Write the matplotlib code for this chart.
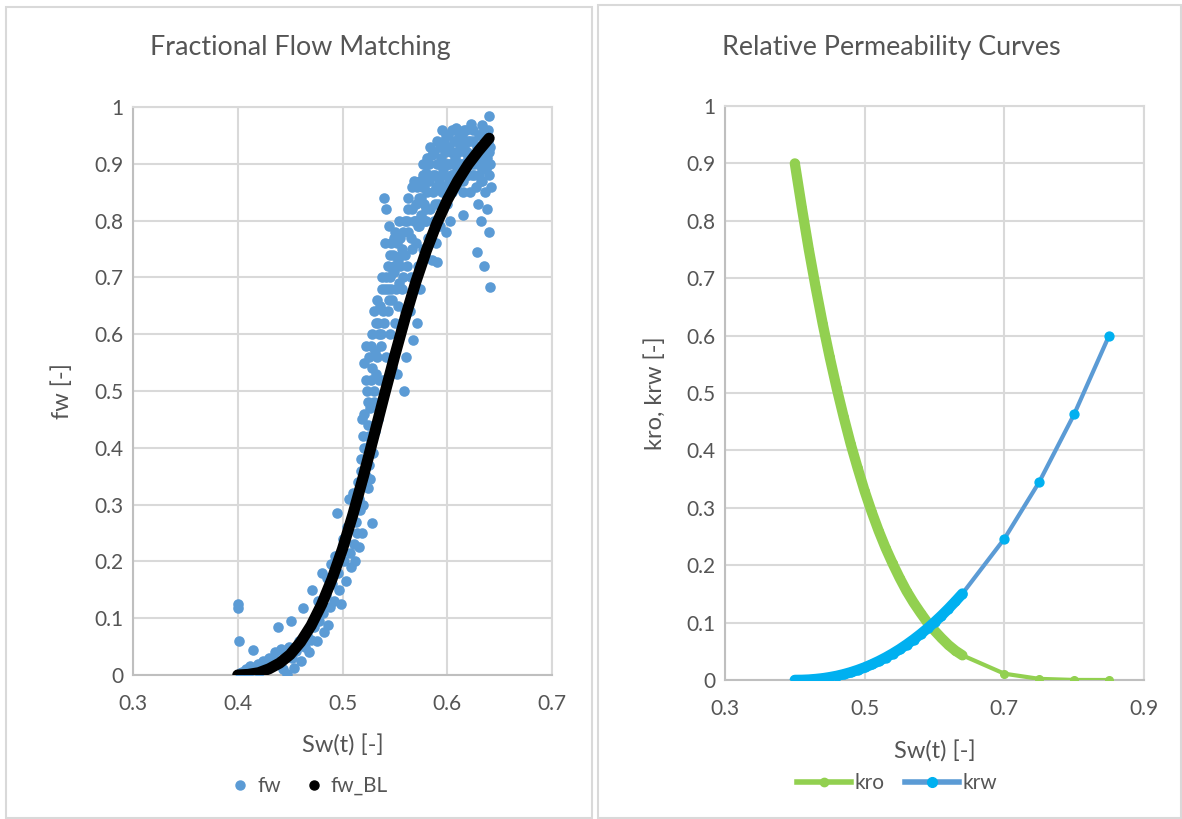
import matplotlib
matplotlib.use('Agg')
import matplotlib.pyplot as plt
from matplotlib.lines import Line2D
from matplotlib.patches import Rectangle

# ---------------- data ----------------
# observed fractional flow (scatter "fw")
sw_obs = [
    0.400, 0.400, 0.401, 0.402, 0.404, 0.406, 0.408, 0.410, 0.412, 0.414,
    0.415, 0.417, 0.419, 0.420, 0.422, 0.424, 0.426, 0.428, 0.430, 0.432,
    0.434, 0.436, 0.438, 0.440, 0.441, 0.443, 0.445, 0.447, 0.449, 0.451,
    0.452, 0.454, 0.456, 0.458, 0.460, 0.462, 0.464, 0.466, 0.468, 0.470,
    0.471, 0.473, 0.474, 0.476, 0.477, 0.478, 0.480, 0.481, 0.482, 0.484,
    0.485, 0.486, 0.488, 0.489, 0.490, 0.492, 0.493, 0.495, 0.496, 0.497,
    0.499, 0.500, 0.501, 0.503, 0.504, 0.506, 0.507, 0.508, 0.510, 0.511,
    0.512, 0.513, 0.514, 0.515, 0.516, 0.517, 0.518, 0.519, 0.520, 0.520,
    0.521, 0.521, 0.522, 0.522, 0.523, 0.523, 0.524, 0.524, 0.525, 0.525,
    0.526, 0.526, 0.527, 0.527, 0.528, 0.528, 0.529, 0.530, 0.530, 0.531,
    0.532, 0.532, 0.533, 0.534, 0.535,
    0.536, 0.537, 0.538, 0.539, 0.540, 0.540, 0.541, 0.542, 0.542, 0.543,
    0.543, 0.544, 0.545, 0.545, 0.546, 0.547, 0.547, 0.548, 0.549, 0.550,
    0.550, 0.551, 0.552, 0.553, 0.553, 0.554, 0.555, 0.556, 0.557, 0.558,
    0.559, 0.560, 0.560,
    0.561, 0.562, 0.563, 0.564, 0.565, 0.566, 0.566, 0.567, 0.568, 0.569,
    0.570, 0.570, 0.571, 0.572, 0.573, 0.573, 0.574, 0.575, 0.576, 0.577,
    0.577, 0.578, 0.579, 0.580, 0.580, 0.581, 0.582, 0.583, 0.584, 0.585,
    0.585,
    0.586, 0.587, 0.588, 0.589, 0.590, 0.590, 0.591, 0.592, 0.593, 0.594,
    0.595, 0.595, 0.596, 0.597, 0.598, 0.599, 0.600, 0.600, 0.601, 0.602,
    0.603, 0.604, 0.605, 0.605, 0.606, 0.607, 0.608, 0.608, 0.609, 0.610,
    0.611, 0.612, 0.612,
    0.613, 0.614, 0.615, 0.615, 0.616, 0.617, 0.618, 0.619, 0.620, 0.620,
    0.621, 0.622, 0.623, 0.623, 0.624, 0.625, 0.626, 0.627, 0.628, 0.628,
    0.629, 0.630, 0.630, 0.631, 0.632, 0.633, 0.633, 0.634, 0.635, 0.635,
    0.636, 0.637, 0.638, 0.638, 0.639, 0.640, 0.640, 0.640, 0.641, 0.641,
    0.642,
    0.516, 0.518, 0.519, 0.521, 0.522, 0.524, 0.525, 0.527, 0.528, 0.530,
    0.531, 0.533, 0.534, 0.535, 0.537, 0.538, 0.539, 0.541, 0.542, 0.544,
    0.545, 0.546, 0.548, 0.549, 0.551, 0.552, 0.554, 0.555, 0.557, 0.558,
    0.560, 0.562, 0.563, 0.565, 0.566, 0.568, 0.569, 0.571, 0.572, 0.574,
    0.575, 0.577, 0.578, 0.580, 0.581, 0.583, 0.584, 0.586, 0.587, 0.589,
    0.590, 0.592, 0.593, 0.595, 0.596, 0.598, 0.599, 0.601, 0.602, 0.604,
    0.605, 0.607, 0.608, 0.610, 0.611, 0.613, 0.614, 0.616, 0.617, 0.619,
    0.620, 0.622, 0.623, 0.625, 0.626, 0.628, 0.629, 0.631, 0.632, 0.634,
    0.635, 0.637, 0.638, 0.640, 0.641, 0.597, 0.603, 0.609, 0.615, 0.621,
    0.627, 0.633, 0.639, 0.588, 0.579, 0.571, 0.563, 0.556, 0.549, 0.543,
]
fw_obs = [
    0.125, 0.118, 0.060, 0.003, 0.006, 0.002, 0.010, 0.004, 0.015, 0.008,
    0.044, 0.012, 0.020, 0.006, 0.018, 0.025, 0.010, 0.022, 0.030, 0.015,
    0.028, 0.040, 0.085, 0.020, 0.045, 0.010, 0.035, 0.002, 0.050, 0.095,
    0.030, 0.012, 0.042, 0.060, 0.025, 0.118, 0.050, 0.070, 0.040, 0.062,
    0.150, 0.085, 0.100, 0.060, 0.130, 0.095, 0.180, 0.110, 0.075, 0.140,
    0.170, 0.088, 0.120, 0.195, 0.160, 0.130, 0.210, 0.285, 0.180, 0.150,
    0.125, 0.240, 0.200, 0.165, 0.260, 0.310, 0.215, 0.190, 0.320, 0.230,
    0.200, 0.270, 0.250, 0.340, 0.225, 0.290, 0.380, 0.250, 0.420, 0.300,
    0.550, 0.460, 0.580, 0.350, 0.500, 0.400, 0.440, 0.330, 0.560, 0.370,
    0.470, 0.345, 0.520, 0.410, 0.268, 0.600, 0.390, 0.480, 0.640, 0.430,
    0.530, 0.620, 0.560, 0.450, 0.600,
    0.650, 0.580, 0.700, 0.520, 0.620, 0.840, 0.680, 0.820, 0.560, 0.720,
    0.640, 0.790, 0.700, 0.600, 0.760, 0.660, 0.540, 0.740, 0.710, 0.620,
    0.780, 0.680, 0.530, 0.730, 0.650, 0.690, 0.770, 0.610, 0.750, 0.700,
    0.500, 0.800, 0.640,
    0.560, 0.720, 0.780, 0.640, 0.700, 0.860, 0.750, 0.590, 0.800, 0.690,
    0.760, 0.830, 0.620, 0.720, 0.840, 0.790, 0.680, 0.810, 0.860, 0.750,
    0.880, 0.830, 0.740, 0.884, 0.800, 0.850, 0.770, 0.900, 0.820, 0.730,
    0.915,
    0.850, 0.800, 0.880, 0.760, 0.900, 0.727, 0.830, 0.870, 0.790, 0.910,
    0.850, 0.880, 0.820, 0.940, 0.860, 0.780, 0.900, 0.830, 0.950, 0.870,
    0.800, 0.920, 0.880, 0.850, 0.940, 0.900, 0.963, 0.860, 0.920, 0.890,
    0.950, 0.870, 0.930,
    0.900, 0.950, 0.870, 0.810, 0.930, 0.890, 0.960, 0.920, 0.880, 0.940,
    0.900, 0.850, 0.970, 0.910, 0.880, 0.940, 0.900, 0.860, 0.745, 0.920,
    0.830, 0.950, 0.880, 0.910, 0.800, 0.968, 0.870, 0.930, 0.720, 0.900,
    0.850, 0.950, 0.910, 0.820, 0.960, 0.985, 0.880, 0.780, 0.930, 0.683,
    0.860,
    0.310, 0.360, 0.450, 0.400, 0.520, 0.480, 0.420, 0.580, 0.540, 0.500,
    0.570, 0.660, 0.620, 0.520, 0.600, 0.680, 0.640, 0.760, 0.700, 0.660,
    0.740, 0.680, 0.710, 0.770, 0.720, 0.760, 0.800, 0.720, 0.680, 0.780,
    0.740, 0.800, 0.840, 0.770, 0.820, 0.870, 0.800, 0.860, 0.790, 0.870,
    0.840, 0.900, 0.860, 0.820, 0.910, 0.870, 0.930, 0.880, 0.920, 0.860,
    0.940, 0.900, 0.930, 0.960, 0.890, 0.920, 0.950, 0.900, 0.930, 0.880,
    0.960, 0.910, 0.940, 0.920, 0.880, 0.940, 0.900, 0.960, 0.920, 0.880,
    0.910, 0.940, 0.900, 0.960, 0.880, 0.930, 0.900, 0.950, 0.870, 0.920,
    0.960, 0.890, 0.940, 0.920, 0.900, 0.860, 0.900, 0.890, 0.850, 0.900,
    0.910, 0.890, 0.940, 0.830, 0.800, 0.800, 0.820, 0.740, 0.720, 0.680,
]

# Buckley-Leverett fractional flow ("fw_BL")
sw_bl = [0.40, 0.41, 0.42, 0.43, 0.44, 0.45, 0.46, 0.47, 0.48, 0.49,
         0.50, 0.51, 0.52, 0.53, 0.54, 0.55, 0.56, 0.57, 0.58, 0.59,
         0.60, 0.61, 0.62, 0.63, 0.64]
fw_bl = [0.000, 0.001, 0.004, 0.011, 0.021, 0.036, 0.058, 0.087, 0.124, 0.169,
         0.222, 0.283, 0.350, 0.421, 0.493, 0.563, 0.630, 0.692, 0.747, 0.795,
         0.836, 0.870, 0.899, 0.923, 0.945]

# relative permeability curves
sw_kr = [0.40, 0.41, 0.42, 0.43, 0.44, 0.45, 0.46, 0.47, 0.48, 0.49,
         0.50, 0.51, 0.52, 0.53, 0.54, 0.55, 0.56, 0.57, 0.58, 0.59,
         0.60, 0.61, 0.62, 0.63, 0.64, 0.70, 0.75, 0.80, 0.85]
kro = [0.900, 0.823, 0.750, 0.683, 0.620, 0.562, 0.508, 0.458, 0.411, 0.369,
       0.329, 0.293, 0.260, 0.230, 0.203, 0.178, 0.155, 0.135, 0.117, 0.100,
       0.086, 0.073, 0.061, 0.051, 0.043, 0.011, 0.002, 0.0001, 0.000]
krw = [0.000, 0.0001, 0.0006, 0.0016, 0.0029, 0.0048, 0.0071, 0.0100, 0.0134, 0.0174,
       0.0219, 0.0271, 0.0328, 0.0391, 0.0460, 0.0535, 0.0617, 0.0705, 0.0799, 0.0900,
       0.1008, 0.1122, 0.1243, 0.1371, 0.1505, 0.246, 0.345, 0.463, 0.600]

# axis ticks
x1_ticks = [0.3, 0.4, 0.5, 0.6, 0.7]
x1_labels = ['0.3', '0.4', '0.5', '0.6', '0.7']
x2_ticks = [0.3, 0.5, 0.7, 0.9]
x2_labels = ['0.3', '0.5', '0.7', '0.9']
y_ticks = [0.0, 0.1, 0.2, 0.3, 0.4, 0.5, 0.6, 0.7, 0.8, 0.9, 1.0]
y_labels = ['0', '0.1', '0.2', '0.3', '0.4', '0.5', '0.6', '0.7', '0.8', '0.9', '1']

# ---------------- style ----------------
W, H, DPI = 1182, 819, 100
plt.rcParams['font.family'] = ['Lato', 'DejaVu Sans']
TXT = '#555555'
GRID = '#D9D9D9'
AXC = '#BFBFBF'
BLUE = '#5B9BD5'
CYAN = '#00B0F0'
GREEN = '#92D050'

fig = plt.figure(figsize=(W / DPI, H / DPI), dpi=DPI)
fig.patch.set_facecolor('white')


def frac(x0, y0, x1, y1):
    return [x0 / W, 1 - y1 / H, (x1 - x0) / W, (y1 - y0) / H]


for (x0, y0, x1, y1) in [(6, 7, 592, 818), (598, 5, 1181, 818)]:
    fig.add_artist(Rectangle((x0 / W, 1 - y1 / H), (x1 - x0) / W, (y1 - y0) / H,
                             transform=fig.transFigure, fill=False,
                             edgecolor=GRID, lw=1.5))

ax1 = fig.add_axes(frac(133, 107, 552, 675))
ax2 = fig.add_axes(frac(725, 106, 1144, 680))


def style(ax, xt, xl):
    ax.set_xlim(xt[0], xt[-1])
    ax.set_ylim(0, 1)
    ax.set_xticks(xt)
    ax.set_xticklabels(xl)
    ax.set_yticks(y_ticks)
    ax.set_yticklabels(y_labels)
    ax.grid(True, color=GRID, lw=1.5)
    ax.set_axisbelow(True)
    for s in ['top', 'right']:
        ax.spines[s].set_color(GRID)
        ax.spines[s].set_linewidth(1.5)
    for s in ['left', 'bottom']:
        ax.spines[s].set_color(AXC)
        ax.spines[s].set_linewidth(1.5)
    ax.tick_params(length=0, colors=TXT, labelsize=15)
    ax.tick_params(axis='x', pad=14)
    ax.tick_params(axis='y', pad=7)


style(ax1, x1_ticks, x1_labels)
style(ax2, x2_ticks, x2_labels)

# left chart
ax1.scatter(sw_obs, fw_obs, s=58, color=BLUE, lw=0, zorder=3)
ax1.plot(sw_bl, fw_bl, color='black', lw=8, solid_capstyle='round', zorder=4)

# right chart
n_dense = sum(1 for s in sw_kr if s <= 0.64)
ax2.plot(sw_kr, kro, color=GREEN, lw=3, marker='o', ms=5.5, zorder=3)
ax2.plot(sw_kr[:n_dense], kro[:n_dense], color=GREEN, lw=7.4,
         solid_capstyle='round', zorder=3)
ax2.plot(sw_kr, krw, color=BLUE, lw=3, marker='o', ms=6.4,
         mfc=CYAN, mec=CYAN, zorder=4)
ax2.plot(sw_kr[:n_dense], krw[:n_dense], color=CYAN, lw=7.6,
         solid_capstyle='round', zorder=4)

# titles and labels
fig.text(300 / W, 1 - 47 / H, 'Fractional Flow Matching', ha='center', va='center',
         fontsize=19.4, color=TXT)
fig.text(891 / W, 1 - 47 / H, 'Relative Permeability Curves', ha='center', va='center',
         fontsize=19.4, color=TXT)

for ax, ylab in [(ax1, 'fw [-]'), (ax2, 'kro, krw [-]')]:
    ax.set_xlabel('Sw(t) [-]', fontsize=17, color=TXT)
    ax.set_ylabel(ylab, fontsize=17, color=TXT)
    ax.xaxis.label.set_va('center')
    ax.yaxis.label.set_va('center')
ax1.xaxis.set_label_coords(0.5, (675 - 746) / 568)
ax1.yaxis.set_label_coords((62 - 133) / 419, 0.5)
ax2.xaxis.set_label_coords(0.5, (680 - 752) / 574)
ax2.yaxis.set_label_coords((655 - 725) / 419, 0.5)

# legends
h1 = [Line2D([], [], ls='none', marker='o', ms=6.5, color=BLUE),
      Line2D([], [], ls='none', marker='o', ms=6.5, color='black')]
fig.legend(h1, ['fw', 'fw_BL'], loc='center', bbox_to_anchor=(310 / W, 1 - 786 / H),
           ncol=2, frameon=False, fontsize=15, labelcolor=TXT,
           handlelength=0.8, handletextpad=0.4, columnspacing=1.2)
h2 = [Line2D([], [], color=GREEN, lw=4, marker='o', ms=6),
      Line2D([], [], color=BLUE, lw=4, marker='o', ms=7, mfc=CYAN, mec=CYAN)]
fig.legend(h2, ['kro', 'krw'], loc='center', bbox_to_anchor=(897 / W, 1 - 783 / H),
           ncol=2, frameon=False, fontsize=15, labelcolor=TXT,
           handlelength=2.6, handletextpad=0.15, columnspacing=1.0)

fig.savefig('out.png', dpi=DPI, facecolor='white')
